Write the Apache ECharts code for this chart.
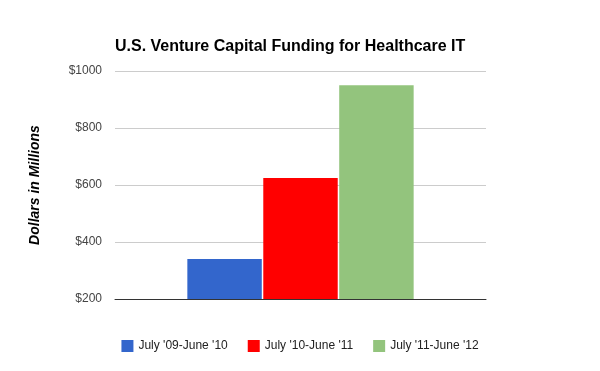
<!DOCTYPE html>
<html><head><meta charset="utf-8">
<script src="https://cdn.jsdelivr.net/npm/echarts@6/dist/echarts.min.js"></script>
<style>html,body{margin:0;padding:0;background:#fff}#c{width:600px;height:371px}</style>
</head><body><div id="c"></div>
<script>
const categories = [''];
const seriesNames = ["July '09-June '10", "July '10-June '11", "July '11-June '12"];
const seriesValues = [[340], [625], [950]];
const seriesColors = ['#3366cc', '#ff0000', '#93c47d'];
const yTicks = [200, 400, 600, 800, 1000];

const chart = echarts.init(document.getElementById('c'));
chart.setOption({
  animation: false,
  title: {
    text: 'U.S. Venture Capital Funding for Healthcare IT',
    left: 110, top: 34,
    textStyle: { fontFamily: 'Liberation Sans, Arial', fontSize: 16, fontWeight: 'bold', color: '#000' }
  },
  legend: {
    bottom: 14, left: 'center',
    itemWidth: 12, itemHeight: 12, itemGap: 20, icon: 'rect',
    textStyle: { fontFamily: 'Liberation Sans, Arial', fontSize: 12, color: '#222' },
    data: seriesNames
  },
  grid: { left: 115, right: 114, top: 71, bottom: 72, containLabel: false },
  xAxis: {
    type: 'category', data: categories,
    axisLine: { lineStyle: { color: '#333', width: 1 } },
    axisTick: { show: false }, axisLabel: { show: false }
  },
  yAxis: {
    type: 'value', min: yTicks[0], max: yTicks[yTicks.length - 1], interval: 200,
    name: 'Dollars in Millions', nameLocation: 'middle', nameGap: 73,
    nameTextStyle: { fontFamily: 'Liberation Sans, Arial', fontSize: 14, fontWeight: 'bold', fontStyle: 'italic', color: '#000' },
    axisLine: { show: false }, axisTick: { show: false },
    axisLabel: { formatter: v => '$' + v, margin: 13, color: '#444', fontFamily: 'Liberation Sans, Arial', fontSize: 12 },
    splitLine: { lineStyle: { color: '#cccccc', width: 1 } }
  },
  series: seriesNames.map((n, i) => ({
    name: n, type: 'bar', data: seriesValues[i],
    itemStyle: { color: seriesColors[i] },
    barGap: '2%', barCategoryGap: '39%'
  }))
});
</script></body></html>
